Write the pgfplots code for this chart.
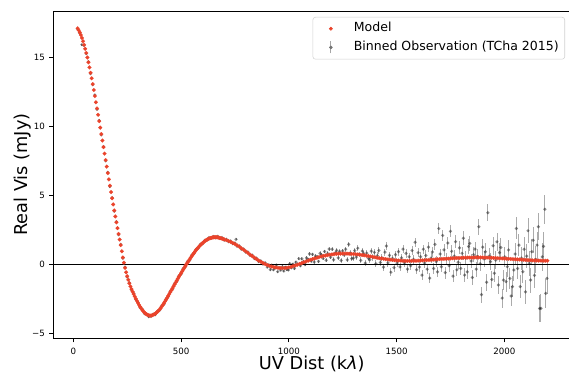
\documentclass[border=0pt]{standalone}
\usepackage{pgfplots}
\pgfplotsset{compat=1.18}
\usepackage{pgfplotstable}
\usepackage{fontspec}
\setmainfont{DejaVu Sans}[ItalicFont={DejaVu Sans Oblique}]
\definecolor{modelred}{RGB}{234,67,43}

\pgfplotstableread{
x y
20 17.14
25 17.00
30 16.84
35 16.65
40 16.44
45 16.20
50 15.94
55 15.65
60 15.35
65 15.02
70 14.67
75 14.30
80 13.91
85 13.51
90 13.09
95 12.66
100 12.22
105 11.77
110 11.32
115 10.86
120 10.40
125 9.93
130 9.46
135 8.99
140 8.51
145 8.04
150 7.57
155 7.10
160 6.63
165 6.17
170 5.71
175 5.25
180 4.80
185 4.35
190 3.91
195 3.48
200 3.05
205 2.63
210 2.21
215 1.80
220 1.40
225 0.95
230 0.50
235 0.12
240 -0.25
245 -0.57
250 -0.86
255 -1.12
260 -1.38
265 -1.60
270 -1.80
275 -1.99
280 -2.16
285 -2.33
290 -2.49
295 -2.65
300 -2.80
305 -2.94
310 -3.08
315 -3.20
320 -3.31
325 -3.41
330 -3.50
335 -3.57
340 -3.63
345 -3.67
350 -3.70
355 -3.72
360 -3.72
365 -3.70
370 -3.67
375 -3.63
380 -3.58
385 -3.52
390 -3.45
395 -3.37
400 -3.28
405 -3.18
410 -3.07
415 -2.95
420 -2.83
425 -2.70
430 -2.57
435 -2.44
440 -2.30
445 -2.16
450 -2.02
455 -1.88
460 -1.74
465 -1.60
470 -1.46
475 -1.32
480 -1.18
485 -1.04
490 -0.90
495 -0.77
500 -0.64
505 -0.51
510 -0.38
515 -0.25
520 -0.12
525 0.01
530 0.13
535 0.25
540 0.37
545 0.49
550 0.61
555 0.72
560 0.83
565 0.94
570 1.04
575 1.14
580 1.23
585 1.32
590 1.40
595 1.48
600 1.55
605 1.62
610 1.68
615 1.74
620 1.79
625 1.83
630 1.87
635 1.90
640 1.93
645 1.95
650 1.96
655 1.97
660 1.97
665 1.97
670 1.96
675 1.94
680 1.92
685 1.90
690 1.87
695 1.84
700 1.81
710 1.76
720 1.70
730 1.63
740 1.55
750 1.47
760 1.38
770 1.28
780 1.17
790 1.06
800 0.95
810 0.83
820 0.71
830 0.60
840 0.49
850 0.38
860 0.28
870 0.19
880 0.10
890 0.02
900 -0.05
910 -0.11
920 -0.16
930 -0.20
940 -0.23
950 -0.25
960 -0.27
970 -0.27
980 -0.27
990 -0.25
1000 -0.22
1010 -0.18
1020 -0.13
1030 -0.08
1040 -0.03
1050 0.03
1060 0.09
1070 0.15
1080 0.21
1090 0.27
1100 0.33
1110 0.38
1120 0.43
1130 0.48
1140 0.53
1150 0.57
1160 0.61
1170 0.64
1180 0.67
1190 0.70
1200 0.72
1210 0.74
1220 0.76
1230 0.77
1240 0.78
1250 0.78
1260 0.78
1270 0.78
1280 0.77
1290 0.76
1300 0.75
1310 0.74
1320 0.72
1330 0.70
1340 0.68
1350 0.66
1360 0.63
1370 0.60
1380 0.57
1390 0.54
1400 0.51
1410 0.48
1420 0.45
1430 0.43
1440 0.40
1450 0.38
1460 0.36
1470 0.34
1480 0.32
1490 0.30
1500 0.29
1510 0.28
1520 0.27
1530 0.26
1540 0.25
1550 0.25
1560 0.25
1570 0.25
1580 0.26
1590 0.26
1600 0.27
1610 0.28
1620 0.29
1630 0.30
1640 0.31
1650 0.32
1660 0.33
1670 0.34
1680 0.36
1690 0.37
1700 0.38
1710 0.39
1720 0.40
1730 0.41
1740 0.42
1750 0.43
1760 0.44
1770 0.45
1780 0.46
1790 0.46
1800 0.47
1810 0.48
1820 0.48
1830 0.49
1840 0.49
1850 0.49
1860 0.50
1870 0.50
1880 0.50
1890 0.50
1900 0.50
1910 0.49
1920 0.49
1930 0.48
1940 0.48
1950 0.47
1960 0.46
1970 0.45
1980 0.44
1990 0.43
2000 0.42
2010 0.41
2020 0.40
2030 0.39
2040 0.38
2050 0.37
2060 0.36
2070 0.35
2080 0.34
2090 0.33
2100 0.32
2110 0.31
2120 0.30
2130 0.29
2140 0.28
2150 0.28
2160 0.27
2170 0.27
2180 0.26
2190 0.26
2200 0.26
}\modeltab

\pgfplotstableread{
x y e
20 17.08 0.08
30 16.78 0.08
40 15.95 0.08
50 15.90 0.08
60 15.30 0.08
70 14.72 0.08
80 13.85 0.08
90 13.05 0.07
100 12.30 0.07
110 11.25 0.07
120 10.45 0.07
130 9.40 0.07
140 8.55 0.07
150 7.52 0.07
160 6.68 0.07
170 5.65 0.07
180 4.84 0.06
190 3.86 0.06
200 3.10 0.06
210 2.15 0.06
220 1.45 0.06
230 0.44 0.06
240 -0.20 0.06
250 -0.92 0.06
260 -1.33 0.06
270 -1.86 0.06
280 -2.10 0.06
290 -2.55 0.06
300 -2.75 0.06
310 -3.15 0.06
320 -3.26 0.06
330 -3.58 0.06
340 -3.60 0.06
350 -3.80 0.06
360 -3.78 0.06
370 -3.62 0.06
380 -3.65 0.06
390 -3.40 0.06
400 -3.35 0.06
410 -3.02 0.06
420 -2.90 0.06
430 -2.52 0.06
440 -2.36 0.06
450 -1.96 0.06
460 -1.80 0.06
470 -1.40 0.06
480 -1.24 0.06
490 -0.84 0.06
500 -0.70 0.06
510 -0.32 0.06
520 -0.18 0.06
530 0.20 0.06
540 0.30 0.06
550 0.68 0.06
560 0.78 0.06
570 1.10 0.06
580 1.18 0.06
590 1.46 0.06
600 1.50 0.06
610 1.74 0.06
620 1.75 0.06
630 1.94 0.06
640 1.90 0.06
650 2.02 0.06
660 1.93 0.06
670 2.03 0.06
680 1.88 0.06
690 1.95 0.06
700 1.76 0.06
710 1.82 0.06
720 1.65 0.06
730 1.70 0.06
740 1.50 0.06
750 1.55 0.06
755 1.82 0.06
760 1.32 0.06
770 1.35 0.06
780 1.10 0.06
790 1.12 0.06
800 0.88 0.06
810 0.90 0.06
820 0.65 0.07
830 0.68 0.07
840 0.42 0.07
850 0.45 0.07
860 0.20 0.07
870 0.25 0.07
880 0.02 0.07
890 0.12 0.07
900 -0.20 0.07
907 -0.04 0.07
914 -0.38 0.08
921 -0.06 0.07
928 -0.39 0.08
935 -0.27 0.07
942 -0.05 0.08
949 -0.53 0.08
956 -0.24 0.08
963 -0.42 0.08
970 -0.17 0.09
977 -0.49 0.09
984 -0.21 0.09
991 -0.37 0.09
998 -0.41 0.09
1005 0.05 0.10
1012 -0.25 0.10
1019 0.02 0.10
1026 -0.30 0.10
1033 0.16 0.10
1040 0.02 0.11
1047 0.41 0.11
1054 -0.10 0.11
1061 0.40 0.11
1068 0.19 0.11
1075 -0.02 0.12
1082 0.47 0.12
1089 0.36 0.12
1096 0.76 0.12
1103 0.25 0.12
1110 0.73 0.13
1117 0.17 0.13
1124 0.60 0.13
1131 0.54 0.13
1138 0.22 0.13
1145 0.80 0.14
1152 0.68 0.14
1159 0.43 0.14
1166 0.93 0.14
1173 0.30 0.15
1180 0.79 0.15
1187 1.11 0.15
1194 0.51 0.15
1201 1.10 0.16
1208 0.34 0.16
1215 0.83 0.16
1222 1.01 0.16
1229 0.47 0.17
1236 0.93 0.17
1243 0.28 0.17
1250 0.98 0.17
1257 0.68 0.18
1264 1.10 0.18
1271 0.33 0.18
1278 1.45 0.18
1285 0.82 0.19
1292 0.41 0.19
1299 0.45 0.19
1306 0.99 0.19
1313 0.53 0.20
1320 1.17 0.20
1327 0.73 0.20
1334 0.29 0.21
1341 0.97 0.21
1348 0.78 0.21
1355 0.09 0.22
1362 0.82 0.22
1369 0.45 0.22
1376 0.33 0.23
1383 0.96 0.23
1390 0.49 0.23
1397 0.87 0.24
1404 0.05 0.24
1411 0.63 0.24
1418 1.01 0.25
1425 0.14 0.25
1432 0.47 0.25
1439 -0.20 0.26
1446 0.89 0.26
1453 1.33 0.26
1460 0.11 0.27
1467 0.65 0.27
1474 -0.57 0.27
1481 0.43 0.28
1488 -0.24 0.28
1495 0.70 0.28
1502 0.09 0.29
1509 0.93 0.29
1516 -0.18 0.29
1523 0.47 0.30
1530 1.11 0.30
1537 0.11 0.30
1544 0.80 0.31
1551 -0.35 0.31
1558 0.55 0.31
1565 -0.10 0.32
1572 1.00 0.32
1579 0.36 0.32
1586 1.61 0.33
1593 -0.39 0.33
1600 0.85 0.33
1606 -0.20 0.34
1612 0.55 0.34
1618 -0.78 0.35
1624 1.10 0.34
1630 0.10 0.35
1636 0.65 0.36
1642 -0.35 0.35
1648 1.25 0.37
1654 -1.00 0.36
1660 0.45 0.37
1666 0.90 0.38
1672 -0.30 0.37
1678 1.45 0.39
1684 0.20 0.38
1690 -0.55 0.39
1696 2.60 0.40
1702 0.75 0.40
1708 -0.17 0.41
1714 2.10 0.42
1720 1.05 0.41
1726 -0.60 0.43
1732 0.40 0.42
1738 1.55 0.44
1744 -0.10 0.43
1750 2.40 0.45
1756 0.95 0.44
1762 -0.85 0.46
1768 0.60 0.45
1774 1.65 0.47
1780 -0.40 0.46
1786 0.15 0.48
1792 1.20 0.47
1798 -0.30 0.49
1804 0.80 0.48
1810 1.90 0.50
1816 -0.78 0.49
1822 0.45 0.51
1828 -0.55 0.50
1834 1.30 0.52
1840 1.52 0.52
1846 0.25 0.53
1852 -0.95 0.54
1858 0.70 0.53
1864 1.10 0.55
1870 -0.35 0.55
1876 0.55 0.56
1882 2.73 0.57
1888 0.05 0.56
1894 -2.20 0.58
1900 1.25 0.58
1906 0.40 0.59
1912 0.92 0.60
1918 -1.30 0.60
1924 3.75 0.62
1930 0.60 0.61
1936 0.19 0.63
1942 -1.10 0.63
1948 1.35 0.64
1954 -0.65 0.65
1960 0.31 0.65
1966 1.64 0.67
1972 -1.50 0.66
1978 0.85 0.68
1984 1.23 0.69
1990 -2.45 0.69
1996 -1.14 0.70
2002 0.55 0.71
2008 -1.26 0.72
2014 -0.17 0.72
2020 1.05 0.74
2026 -1.02 0.74
2032 -2.30 0.76
2038 -1.62 0.76
2044 -0.41 0.77
2050 0.75 0.78
2056 2.61 0.80
2062 -0.30 0.79
2068 1.40 0.81
2074 -1.62 0.82
2080 0.45 0.83
2086 -0.54 0.84
2092 1.10 0.85
2098 -2.00 0.86
2104 0.60 0.87
2110 2.44 0.89
2116 0.07 0.89
2122 -1.14 0.91
2128 0.92 0.92
2134 1.75 0.93
2140 -0.80 0.95
2146 0.35 0.96
2152 1.40 0.98
2158 2.73 0.99
2164 -3.20 1.00
2170 -3.20 1.02
2176 0.55 1.03
2182 1.30 1.05
2188 4.00 1.07
2192 -2.11 1.08
2198 -1.02 1.10
}\obstab

\begin{document}
\begin{tikzpicture}
\useasboundingbox (-40.125pt,-25.275pt) rectangle (386.625pt,253.725pt);
\begin{axis}[
  at={(0pt,0pt)}, anchor=south west,
  scale only axis, width=387.4pt, height=245.5pt,
  xmin=-92, xmax=2305, ymin=-5.37, ymax=18.4,
  axis x line*=box, axis y line*=left,
  axis line style={line width=0.7pt, black},
  tick pos=left, tick align=outside,
  major tick length=3pt,
  tick style={line width=0.6pt, black},
  xtick={0,500,1000,1500,2000},
  xticklabels={0,500,1000,1500,2000},
  ytick={-5,0,5,10,15},
  yticklabels={−5,0,5,10,15},
  tick label style={font=\fontsize{6.5}{7.5}\selectfont},
  xticklabel style={yshift=-0.5pt},
  xlabel={UV Dist (k\textit{λ})},
  ylabel={Real Vis (mJy)},
  every axis x label/.style={at={(axis description cs:0.5,-0.079)}, anchor=center, font=\fontsize{13.3}{16}\selectfont},
  every axis y label/.style={at={(axis description cs:-0.059,0.5)}, anchor=center, rotate=90, font=\fontsize{13.3}{16}\selectfont},
  reverse legend,
  legend cell align=left,
  legend style={at={(axis description cs:0.9903,0.9817)}, anchor=north east,
    draw=black!18, rounded corners=2pt, fill=white,
    font=\fontsize{9.4}{10.5}\selectfont,
    inner xsep=4.5pt, inner ysep=4pt, row sep=4.6pt,
    nodes={inner sep=0pt, text height=7pt, text depth=2.2pt}},
]
\addplot[black, line width=1pt, forget plot] coordinates {(-92,0) (2305,0)};
\addplot[black, only marks, mark=*, mark size=1.3pt,
  mark options={fill=black, fill opacity=0.45, draw opacity=0},
  legend image code/.code={
    \path[draw=none, fill=none] (0pt,-4.5pt) rectangle (26.25pt,4.5pt);
    \draw[black!35, line width=0.7pt, opacity=1] (9pt,-4.5pt) -- (9pt,4.5pt);
    \fill[black!55, opacity=1] (9pt,0pt) circle (1.1pt);},
  error bars/.cd, y dir=both, y explicit,
  error bar style={black, opacity=0.33, line width=0.7pt}, error mark=none]
  table[x=x, y=y, y error=e] {\obstab};
\addlegendentry{Binned Observation (TCha 2015)}
\addplot[modelred, only marks, mark=*, mark size=1.45pt,
  mark options={fill=modelred, draw=modelred, line width=0.1pt},
  legend image code/.code={
    \path[draw=none, fill=none] (0pt,-4.5pt) rectangle (26.25pt,4.5pt);
    \fill[modelred] (9pt,0pt) circle (1.2pt);}]
  table[x=x, y=y] {\modeltab};
\addlegendentry{Model}
\end{axis}
\end{tikzpicture}
\end{document}
